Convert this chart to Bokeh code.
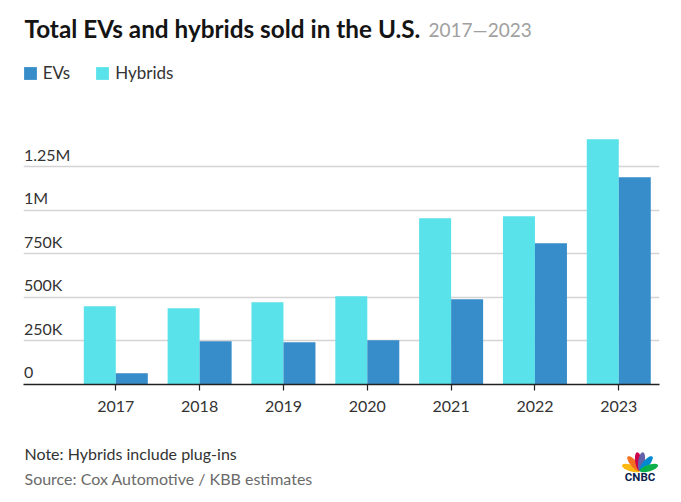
import math
from bokeh.plotting import figure
from bokeh.layouts import column
from bokeh.models import (Range1d, FixedTicker, Grid, Label, Legend, LegendItem,
                          ColumnDataSource)
from bokeh.transform import dodge
from bokeh.core.properties import value
from bokeh.embed import file_html
from bokeh.resources import INLINE

# ---------------- data ----------------
years = [2017, 2018, 2019, 2020, 2021, 2022, 2023]
evs = [64500, 248000, 242000, 254000, 489000, 810000, 1189000]
hybrids = [449000, 437000, 472000, 506000, 954000, 965000, 1407000]
y_ticks = [0, 250000, 500000, 750000, 1000000, 1250000]
y_tick_labels = ["0", "250K", "500K", "750K", "1M", "1.25M"]

# ---------------- style ----------------
FONT = "Lato"
EV_COLOR = "#368dc9"
HY_COLOR = "#5ae2ea"
GRID_COLOR = "#d4d4d4"
TEXT_COLOR = "#333333"

W = 681
H_MAIN = 430
H_FOOT = 72
ML, MR, MT = 23, 22, 0
frame_w = W - ML - MR
frame_h = 384
MB = H_MAIN - MT - frame_h
px_per_year = 83.83
x_start = years[0] - 92.3 / px_per_year
x_end = x_start + frame_w / px_per_year
px_per_unit = 43.58 / 250000
y_end = frame_h / px_per_unit

# page -> frame screen coordinates (y measured up from frame bottom)
FL = ML
FB = MT + frame_h
def sx(px):
    return px - FL
def sy(py):
    return FB - py

p = figure(width=W, height=H_MAIN, x_range=Range1d(x_start, x_end),
           y_range=Range1d(0, y_end), output_backend="svg",
           toolbar_location=None, y_axis_location=None,
           min_border_left=ML, min_border_right=MR, min_border_top=MT,
           min_border_bottom=MB)
p.outline_line_color = None
p.background_fill_color = "white"
p.border_fill_color = "white"
for g in p.grid:
    g.visible = False

grid = Grid(dimension=1, ticker=FixedTicker(ticks=y_ticks[1:]),
            grid_line_color=GRID_COLOR, grid_line_width=1.5)
p.add_layout(grid)

xa = p.xaxis[0]
xa.ticker = FixedTicker(ticks=years)
xa.axis_line_color = "#222222"
xa.axis_line_width = 1.5
xa.major_tick_line_color = "#222222"
xa.major_tick_line_width = 1.2
xa.major_tick_out = 6
xa.major_tick_in = 0
xa.minor_tick_line_color = None
xa.major_label_text_font = FONT
xa.major_label_text_font_size = "16px"
xa.major_label_text_color = TEXT_COLOR
xa.major_label_standoff = 10

src = ColumnDataSource(dict(year=years, ev=evs, hybrid=hybrids))
bw = 32 / px_per_year
hy_r = p.vbar(x=dodge("year", -bw / 2, range=p.x_range), top="hybrid", width=bw,
              source=src, fill_color=HY_COLOR, line_color=None)
ev_r = p.vbar(x=dodge("year", bw / 2, range=p.x_range), top="ev", width=bw,
              source=src, fill_color=EV_COLOR, line_color=None)

# y tick labels sitting above the gridlines
p.text(x=[x_start] * len(y_ticks), y=y_ticks, text=y_tick_labels,
       text_font=value(FONT), text_font_size="16px", text_color=TEXT_COLOR,
       text_baseline="middle", text_align="left", x_offset=0.5, y_offset=-12.5)

# title
p.add_layout(Label(x=sx(24), y=sy(28), x_units="screen", y_units="screen",
                   text="Total EVs and hybrids sold in the U.S.", text_font=FONT,
                   text_font_style="bold", text_font_size="24.3px",
                   text_color="#141414", text_baseline="middle"))
p.add_layout(Label(x=sx(428), y=sy(28.5), x_units="screen", y_units="screen",
                   text="2017\u20142023", text_font=FONT, text_font_size="19px",
                   text_color="#a0a0a0", text_baseline="middle"))

# legend
legend = Legend(items=[LegendItem(label="EVs", renderers=[ev_r]),
                       LegendItem(label="Hybrids", renderers=[hy_r])],
                orientation="horizontal", location=(sx(21.7), sy(83)),
                glyph_width=16, glyph_height=16, label_height=16,
                label_standoff=5, spacing=24, padding=0, margin=0,
                border_line_color=None, background_fill_alpha=0,
                label_text_font=FONT, label_text_font_size="17px",
                label_text_color=TEXT_COLOR)
p.add_layout(legend)

# ---------------- footer ----------------
# frames of a column are aligned, so give the footer the same borders and
# map its x range to page pixels
f = figure(width=W, height=H_FOOT, x_range=Range1d(ML, W - MR),
           y_range=Range1d(H_FOOT, 0),
           output_backend="svg", toolbar_location=None,
           x_axis_location=None, y_axis_location=None,
           min_border_left=ML, min_border_right=MR, min_border_top=0,
           min_border_bottom=0)
f.outline_line_color = None
f.xgrid.visible = False
f.ygrid.visible = False
OY = H_MAIN  # page y of footer top

f.text(x=[24], y=[453.3 - OY], text=["Note: Hybrids include plug-ins"],
       text_font=value(FONT), text_font_size="16px", text_color=TEXT_COLOR,
       text_baseline="middle")
f.text(x=[24], y=[477.7 - OY], text=["Source: Cox Automotive / KBB estimates"],
       text_font=value(FONT), text_font_size="16px", text_color="#6b6b6b",
       text_baseline="middle")

# CNBC logo (peacock feathers + wordmark)
feathers = [(162, "#fcb711"), (130, "#f37021"), (99, "#cc004c"),
            (81, "#6460aa"), (50, "#0089d0"), (18, "#0db14b")]
bx, by = 639.5, 470.5 - OY
d, a, b = 9.5, 9.5, 3.3
fxs, fys, fcs = [], [], []
for ang, col in feathers:
    th = math.radians(ang)
    cx, cy = bx + d * math.cos(th), by - d * math.sin(th)
    xs, ys = [], []
    for k in range(24):
        t = 2 * math.pi * k / 24
        ex, ey = a * math.cos(t), b * math.sin(t)
        xs.append(cx + ex * math.cos(th) - ey * math.sin(th))
        ys.append(cy - (ex * math.sin(th) + ey * math.cos(th)))
    fxs.append(xs)
    fys.append(ys)
    fcs.append(col)
f.patches(xs=fxs, ys=fys, fill_color=fcs, line_color=None)
f.text(x=[639.5], y=[476.3 - OY], text=["CNBC"], text_font=value("Roboto"),
       text_font_style="bold", text_font_size="11.5px", text_color="#0c1f4f",
       text_align="center", text_baseline="middle")

layout = column(p, f, spacing=0)
open("out.html", "w").write(file_html(layout, INLINE))
